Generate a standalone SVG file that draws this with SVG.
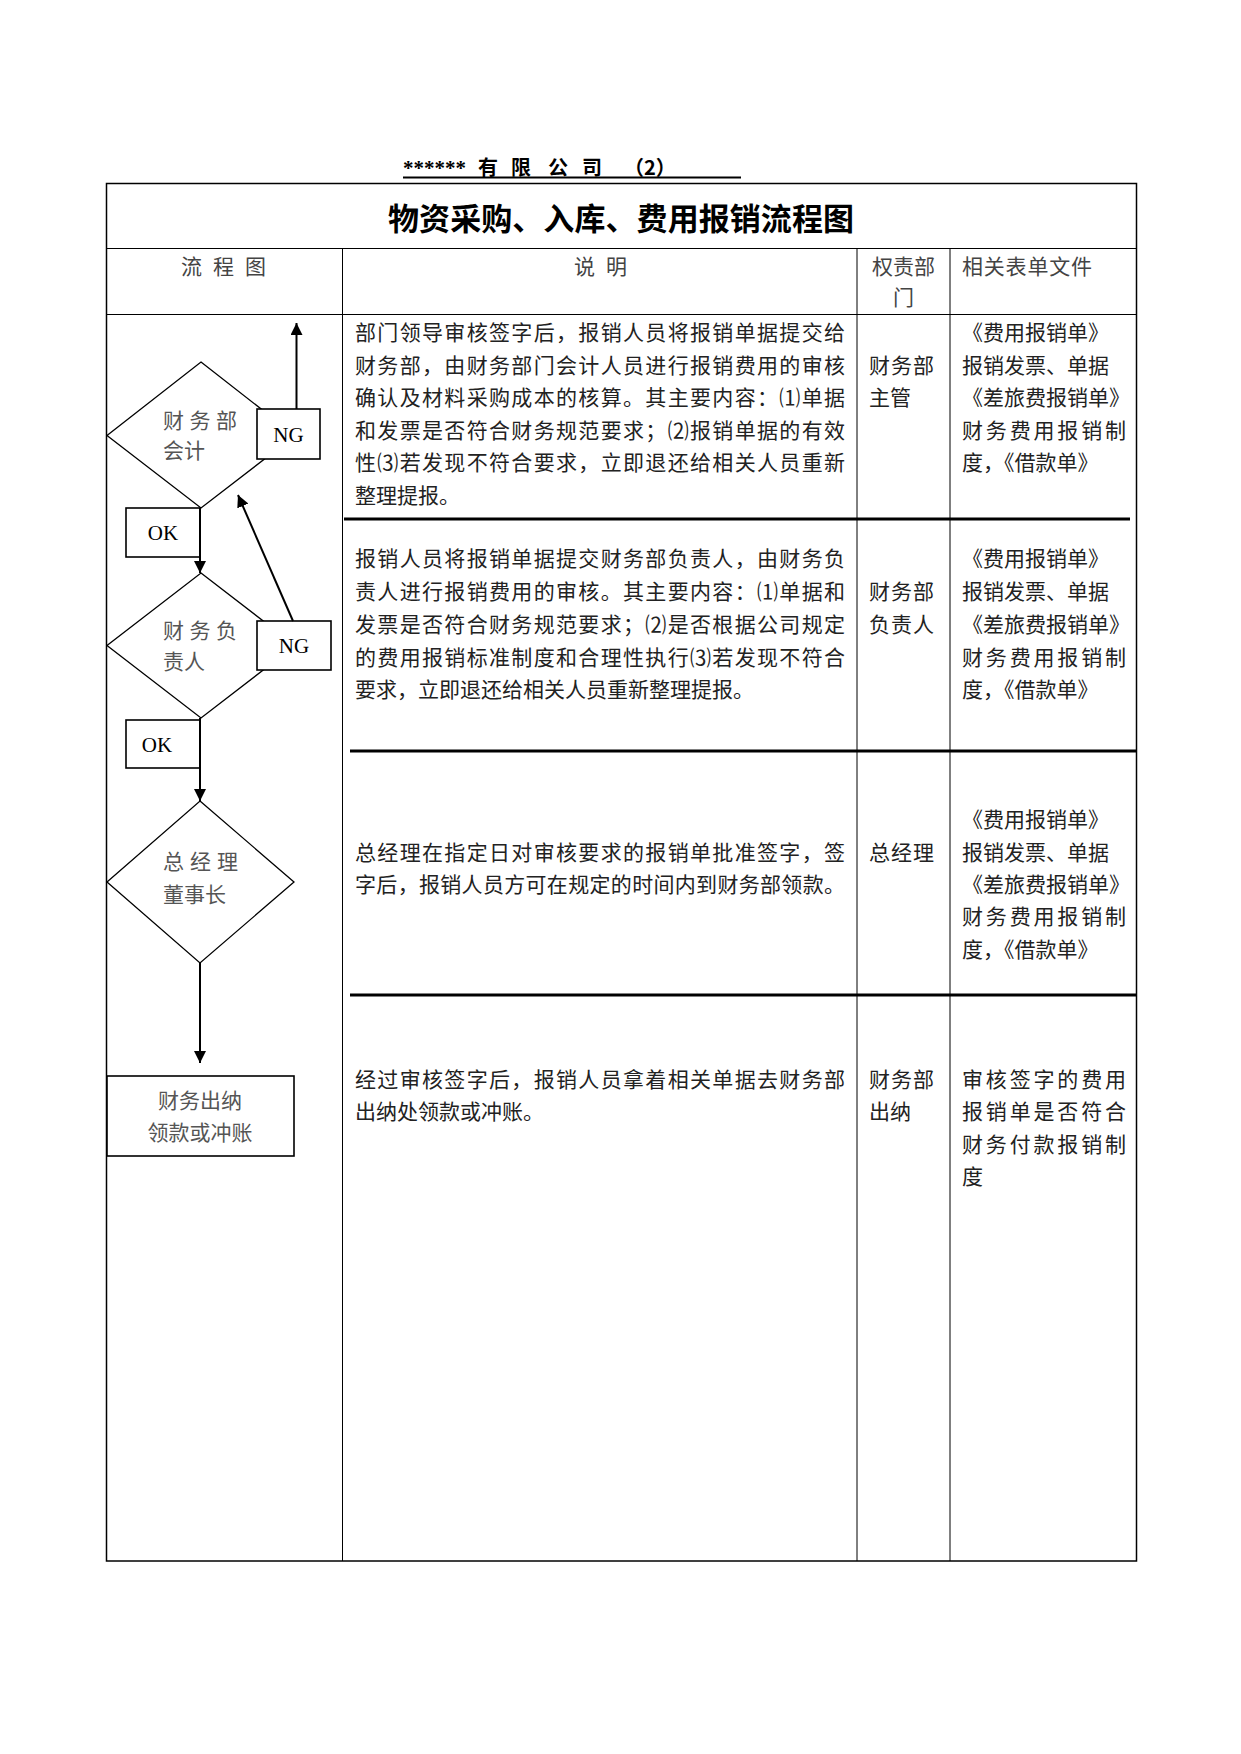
<svg xmlns="http://www.w3.org/2000/svg" width="1241" height="1754" viewBox="0 0 1241 1754">
<style>
.cjk{font-family:"Noto Sans CJK SC","Liberation Serif",sans-serif;}
.body{font-family:"Noto Sans CJK SC",sans-serif;font-size:21px;fill:#222;}
.hdr{font-family:"Noto Sans CJK SC",sans-serif;font-size:21px;fill:#444;}
.dtxt{font-family:"Noto Sans CJK SC",sans-serif;font-size:21px;fill:#555;}
.lat{font-family:"Liberation Serif",serif;font-size:21px;fill:#000;}
.grid{stroke:#000;stroke-width:1;fill:none;}
.thick{stroke:#000;stroke-width:3;fill:none;}
.shape{stroke:#000;stroke-width:1.3;fill:#fff;}
.box{stroke:#000;stroke-width:1.6;fill:#fff;}
.conn{stroke:#000;stroke-width:2;fill:none;}
</style>
<defs>
<marker id="arr" viewBox="0 0 12 12" refX="12" refY="6" markerWidth="12" markerHeight="12" markerUnits="userSpaceOnUse" orient="auto">
<path d="M0,0 L12,6 L0,12 Z" fill="#000"/>
</marker>
</defs>
<rect width="1241" height="1754" fill="#fff"/>

<!-- heading -->
<g id="heading">
<text y="175" font-weight="bold" font-size="20" class="cjk" fill="#000"><tspan x="403" font-family="Liberation Serif" font-size="21">******</tspan><tspan x="478">有</tspan><tspan x="511">限</tspan><tspan x="548">公</tspan><tspan x="582">司</tspan><tspan x="624">（2）</tspan></text>
<line x1="403" y1="177.5" x2="741" y2="177.5" stroke="#000" stroke-width="2"/>
</g>

<!-- table -->
<g id="table">
<rect x="106.5" y="183.5" width="1030" height="1377.5" fill="none" stroke="#000" stroke-width="1.5"/>
<line class="grid" x1="106.5" y1="248.5" x2="1136.5" y2="248.5"/>
<line class="grid" x1="106.5" y1="314.5" x2="1136.5" y2="314.5"/>
<line class="grid" x1="342.5" y1="248.5" x2="342.5" y2="1561"/>
<line class="grid" x1="857" y1="248.5" x2="857" y2="1561"/>
<line class="grid" x1="950" y1="248.5" x2="950" y2="1561"/>
<line class="thick" x1="344" y1="519" x2="1130" y2="519"/>
<line class="thick" x1="350" y1="751" x2="1136.5" y2="751"/>
<line class="thick" x1="350" y1="995" x2="1136.5" y2="995"/>
<text x="621" y="230" text-anchor="middle" class="cjk" font-size="31" font-weight="bold" fill="#000" textLength="466" lengthAdjust="spacing">物资采购、入库、费用报销流程图</text>
<text class="hdr" x="181" y="274" textLength="85" lengthAdjust="spacing">流 程 图</text>
<text class="hdr" x="574" y="274" textLength="53" lengthAdjust="spacing">说 明</text>
<text class="hdr" x="872" y="274" textLength="63" lengthAdjust="spacing">权责部</text>
<text class="hdr" x="893" y="305">门</text>
<text class="hdr" x="962" y="274" textLength="130" lengthAdjust="spacing">相关表单文件</text>
</g>

<!-- row texts -->
<g id="row1-text">
<text class="body" x="355" y="340" textLength="490" lengthAdjust="spacing">部门领导审核签字后，报销人员将报销单据提交给</text>
<text class="body" x="355" y="373" textLength="490" lengthAdjust="spacing">财务部，由财务部门会计人员进行报销费用的审核</text>
<text class="body" x="355" y="405" textLength="490" lengthAdjust="spacing">确认及材料采购成本的核算。其主要内容：⑴单据</text>
<text class="body" x="355" y="438" textLength="490" lengthAdjust="spacing">和发票是否符合财务规范要求；⑵报销单据的有效</text>
<text class="body" x="355" y="470" textLength="490" lengthAdjust="spacing">性⑶若发现不符合要求，立即退还给相关人员重新</text>
<text class="body" x="355" y="503">整理提报。</text>
<text class="body" x="869" y="373" textLength="65" lengthAdjust="spacing">财务部</text>
<text class="body" x="869" y="405">主管</text>
<text class="body" x="962" y="340">《费用报销单》</text>
<text class="body" x="962" y="373">报销发票、单据</text>
<text class="body" x="962" y="405">《差旅费报销单》</text>
<text class="body" x="962" y="438" textLength="164" lengthAdjust="spacing">财务费用报销制</text>
<text class="body" x="962" y="470">度，《借款单》</text>
</g>
<g id="row2-text">
<text class="body" x="355" y="566" textLength="490" lengthAdjust="spacing">报销人员将报销单据提交财务部负责人，由财务负</text>
<text class="body" x="355" y="599" textLength="490" lengthAdjust="spacing">责人进行报销费用的审核。其主要内容：⑴单据和</text>
<text class="body" x="355" y="632" textLength="490" lengthAdjust="spacing">发票是否符合财务规范要求；⑵是否根据公司规定</text>
<text class="body" x="355" y="665" textLength="490" lengthAdjust="spacing">的费用报销标准制度和合理性执行⑶若发现不符合</text>
<text class="body" x="355" y="697">要求，立即退还给相关人员重新整理提报。</text>
<text class="body" x="869" y="599" textLength="65" lengthAdjust="spacing">财务部</text>
<text class="body" x="869" y="632" textLength="65" lengthAdjust="spacing">负责人</text>
<text class="body" x="962" y="566">《费用报销单》</text>
<text class="body" x="962" y="599">报销发票、单据</text>
<text class="body" x="962" y="632">《差旅费报销单》</text>
<text class="body" x="962" y="665" textLength="164" lengthAdjust="spacing">财务费用报销制</text>
<text class="body" x="962" y="697">度，《借款单》</text>
</g>
<g id="row3-text">
<text class="body" x="355" y="860" textLength="490" lengthAdjust="spacing">总经理在指定日对审核要求的报销单批准签字，签</text>
<text class="body" x="355" y="892" textLength="490" lengthAdjust="spacing">字后，报销人员方可在规定的时间内到财务部领款。</text>
<text class="body" x="869" y="860" textLength="65" lengthAdjust="spacing">总经理</text>
<text class="body" x="962" y="827">《费用报销单》</text>
<text class="body" x="962" y="860">报销发票、单据</text>
<text class="body" x="962" y="892">《差旅费报销单》</text>
<text class="body" x="962" y="924" textLength="164" lengthAdjust="spacing">财务费用报销制</text>
<text class="body" x="962" y="957">度，《借款单》</text>
</g>
<g id="row4-text">
<text class="body" x="355" y="1087" textLength="490" lengthAdjust="spacing">经过审核签字后，报销人员拿着相关单据去财务部</text>
<text class="body" x="355" y="1119">出纳处领款或冲账。</text>
<text class="body" x="869" y="1087" textLength="65" lengthAdjust="spacing">财务部</text>
<text class="body" x="869" y="1119">出纳</text>
<text class="body" x="962" y="1087" textLength="164" lengthAdjust="spacing">审核签字的费用</text>
<text class="body" x="962" y="1119" textLength="164" lengthAdjust="spacing">报销单是否符合</text>
<text class="body" x="962" y="1152" textLength="164" lengthAdjust="spacing">财务付款报销制</text>
<text class="body" x="962" y="1184">度</text>
</g>

<!-- flow nodes -->
<g id="node-accountant">
<polygon class="shape" points="201,362 295,435.5 201,508 107,435.5"/>
<text class="dtxt" x="163" y="428" textLength="74" lengthAdjust="spacing">财 务 部</text>
<text class="dtxt" x="163" y="458">会计</text>
</g>
<g id="node-ng1">
<rect class="box" x="257" y="409" width="63" height="50"/>
<text class="lat" x="288.5" y="442" text-anchor="middle">NG</text>
</g>
<g id="node-ok1">
<rect class="box" x="126" y="508" width="74" height="49"/>
<text class="lat" x="163" y="540" text-anchor="middle">OK</text>
</g>
<g id="node-finance-head">
<polygon class="shape" points="201,573 295,645.5 201,718 107,645.5"/>
<text class="dtxt" x="163" y="638" textLength="74" lengthAdjust="spacing">财 务 负</text>
<text class="dtxt" x="163" y="669">责人</text>
</g>
<g id="node-ng2">
<rect class="box" x="257" y="621" width="74" height="49"/>
<text class="lat" x="294" y="653" text-anchor="middle">NG</text>
</g>
<g id="node-ok2">
<rect class="box" x="126" y="720" width="74" height="48"/>
<text class="lat" x="157" y="752" text-anchor="middle">OK</text>
</g>
<g id="node-gm">
<polygon class="shape" points="200,801 294,882 200,963 107,882"/>
<text class="dtxt" x="163" y="869" textLength="75" lengthAdjust="spacing">总 经 理</text>
<text class="dtxt" x="163" y="902">董事长</text>
</g>
<g id="node-cashier">
<rect class="box" x="107" y="1076" width="187" height="80"/>
<text class="dtxt" x="200" y="1108" text-anchor="middle">财务出纳</text>
<text class="dtxt" x="200" y="1140" text-anchor="middle">领款或冲账</text>
</g>

<!-- connectors -->
<g id="connectors">
<line class="conn" x1="296.5" y1="409" x2="296.5" y2="323" marker-end="url(#arr)"/>
<line class="conn" x1="200" y1="508" x2="200" y2="573" marker-end="url(#arr)"/>
<line class="conn" x1="293" y1="621" x2="238" y2="495" marker-end="url(#arr)"/>
<line class="conn" x1="200" y1="718" x2="200" y2="801" marker-end="url(#arr)"/>
<line class="conn" x1="200" y1="963" x2="200" y2="1063" marker-end="url(#arr)"/>
</g>
</svg>
